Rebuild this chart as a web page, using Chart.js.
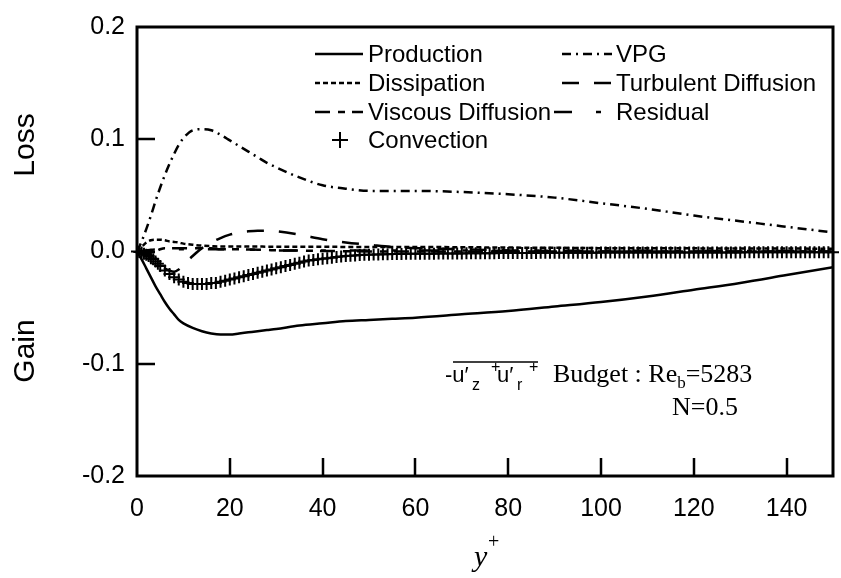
<!DOCTYPE html>
<html>
<head>
<meta charset="utf-8">
<script src="https://cdn.jsdelivr.net/npm/chart.js@4/dist/chart.umd.min.js"></script>
<style>
  html, body { margin: 0; padding: 0; background: #fff; }
  #wrap { width: 841px; height: 578px; }
</style>
</head>
<body>
<div id="wrap"><canvas id="c" width="841" height="578"></canvas></div>
<script>
// Wall distance (y+) for the smooth budget terms
const yPlus = [0, 1, 2, 3, 4, 5, 6, 7, 8, 9, 10, 12, 14, 16, 18, 20, 22, 24, 26, 28, 30,
               35, 40, 45, 50, 55, 60, 70, 80, 90, 100, 110, 120, 130, 140, 150];

const production = [0, -0.007, -0.015, -0.023, -0.031, -0.038, -0.045, -0.051, -0.056, -0.061, -0.064,
                    -0.068, -0.071, -0.073, -0.074, -0.074, -0.073, -0.072, -0.071, -0.070, -0.069,
                    -0.066, -0.064, -0.062, -0.061, -0.060, -0.059, -0.056, -0.053, -0.049, -0.045,
                    -0.040, -0.034, -0.028, -0.021, -0.014];

const dissipation = [0, 0.004, 0.008, 0.010, 0.0105, 0.0105, 0.010, 0.009, 0.0085, 0.008, 0.007,
                     0.006, 0.0052, 0.0048, 0.0045, 0.0045, 0.0045, 0.0044, 0.0044, 0.0043, 0.0043,
                     0.0042, 0.0042, 0.0041, 0.0041, 0.004, 0.004, 0.0038, 0.0035, 0.0033, 0.003,
                     0.003, 0.0028, 0.0027, 0.0026, 0.0025];

const viscousDiffusion = [0, -0.002, -0.003, -0.002, 0, 0.002, 0.003, 0.003, 0.003, 0.003, 0.003,
                          0.003, 0.003, 0.003, 0.002, 0.002, 0.002, 0.0018, 0.0016, 0.0014, 0.001,
                          0.0008, 0.0005, 0.0003, 0, 0, 0, 0, 0, 0, 0,
                          0, 0, 0, 0, 0];

const vpg = [0, 0.009, 0.020, 0.032, 0.045, 0.057, 0.068, 0.078, 0.087, 0.095, 0.101,
             0.108, 0.109, 0.108, 0.104, 0.099, 0.094, 0.089, 0.084, 0.079, 0.075,
             0.066, 0.059, 0.056, 0.054, 0.054, 0.054, 0.053, 0.051, 0.048, 0.043,
             0.038, 0.032, 0.027, 0.022, 0.017];

const turbulentDiffusion = [0, -0.001, -0.003, -0.006, -0.009, -0.012, -0.015, -0.017, -0.018, -0.016, -0.012,
                            -0.004, 0.003, 0.008, 0.012, 0.015, 0.017, 0.018, 0.0185, 0.0185, 0.018,
                            0.015, 0.011, 0.008, 0.006, 0.004, 0.003, 0.002, 0.001, 0.0005, 0,
                            0, 0, 0, 0, 0];

const residual = [0, 0.0005, 0.001, 0.0015, 0.0018, 0.002, 0.002, 0.002, 0.002, 0.002, 0.002,
                  0.002, 0.002, 0.002, 0.002, 0.002, 0.0018, 0.0016, 0.0014, 0.0012, 0.001,
                  0.001, 0.001, 0.001, 0.001, 0.001, 0.0008, 0.0008, 0.0007, 0.0007, 0.0006,
                  0.0006, 0.0005, 0.0005, 0.0005, 0.0005];

// Convection is shown at the grid points of the simulation
const convYPlus = [0, 0.5, 1, 1.5, 2, 2.5, 3, 3.5, 4, 4.5, 5, 6, 7, 8, 9, 10, 11, 12, 13, 14, 15,
                   16, 17, 18, 19, 20, 21, 22, 23, 24, 25, 26, 27, 28, 29, 30, 31, 32, 33, 34, 35,
                   36, 37, 38, 39, 40, 41, 42, 43, 44, 45, 46, 47, 48, 49, 50, 51, 52, 53, 54, 55,
                   56, 57, 58, 59, 60, 61, 62, 63, 64, 65, 66, 67, 68, 69, 70, 71, 72, 73, 74, 75,
                   76, 77, 78, 79, 80, 81, 82, 83, 84, 85, 86, 87, 88, 89, 90, 91, 92, 93, 94, 95,
                   96, 97, 98, 99, 100, 101, 102, 103, 104, 105, 106, 107, 108, 109, 110, 111, 112, 113, 114, 115,
                   116, 117, 118, 119, 120, 121, 122, 123, 124, 125, 126, 127, 128, 129, 130, 131, 132, 133, 134, 135,
                   136, 137, 138, 139, 140, 141, 142, 143, 144, 145, 146, 147, 148, 149, 150];

const convection = [0, -0.0005, -0.001, -0.002, -0.003, -0.004, -0.006, -0.007, -0.009, -0.011, -0.013, -0.017, -0.020, -0.023, -0.025, -0.027, -0.028, -0.029, -0.029, -0.029, -0.029,
                    -0.028, -0.028, -0.027, -0.026, -0.025, -0.024, -0.023, -0.022, -0.021, -0.020, -0.019, -0.018, -0.017, -0.016, -0.015, -0.014, -0.013, -0.012, -0.011, -0.010,
                    -0.009, -0.008, -0.0075, -0.007, -0.0065, -0.006, -0.0055, -0.005, -0.0045, -0.004, -0.0038, -0.0035, -0.0032, -0.003, -0.0028, -0.0027, -0.0026, -0.0025, -0.0024, -0.0023,
                    -0.0022, -0.0022, -0.0021, -0.0021, -0.002, -0.002, -0.002, -0.0019, -0.0019, -0.0018, -0.0018, -0.0018, -0.0017, -0.0017, -0.0017, -0.0016, -0.0016, -0.0016, -0.0015, -0.0015,
                    -0.0015, -0.0015, -0.0014, -0.0014, -0.0014, -0.0014, -0.0013, -0.0013, -0.0013, -0.0013, -0.0013, -0.0012, -0.0012, -0.0012, -0.0012, -0.0012, -0.0012, -0.0011, -0.0011, -0.0011,
                    -0.0011, -0.0011, -0.0011, -0.0011, -0.001, -0.001, -0.001, -0.001, -0.001, -0.001, -0.001, -0.001, -0.001, -0.001, -0.001, -0.0009, -0.0009, -0.0009, -0.0009, -0.0009,
                    -0.0009, -0.0009, -0.0009, -0.0009, -0.0009, -0.0008, -0.0008, -0.0008, -0.0008, -0.0008, -0.0008, -0.0008, -0.0008, -0.0008, -0.0008, -0.0007, -0.0007, -0.0007, -0.0007, -0.0007,
                    -0.0007, -0.0007, -0.0007, -0.0007, -0.0007, -0.0006, -0.0006, -0.0006, -0.0006, -0.0006, -0.0006, -0.0006, -0.0006, -0.0006, -0.0006];

const xTickValues = [0, 20, 40, 60, 80, 100, 120, 140];
const yTickValues = [-0.2, -0.1, 0.0, 0.1, 0.2];
const innerTickX = [20, 40, 60, 80, 100, 120, 140];
const innerTickY = [-0.1, 0.0, 0.1];

const pts = (xs, ys) => xs.map((x, i) => ({ x: x, y: ys[i] }));

const LINE_W = 2.5;
const lineSet = (label, data, dash) => ({
  label: label,
  data: data,
  showLine: true,
  borderColor: '#000',
  borderWidth: LINE_W,
  borderDash: dash,
  pointRadius: 0,
  cubicInterpolationMode: 'monotone',
  fill: false
});

const datasets = [
  lineSet('Production', pts(yPlus, production), []),
  lineSet('Dissipation', pts(yPlus, dissipation), [5, 3]),
  lineSet('Viscous Diffusion', pts(yPlus, viscousDiffusion), [15, 8, 7, 7]),
  {
    label: 'Convection',
    data: pts(convYPlus, convection),
    showLine: false,
    pointStyle: 'cross',
    pointRadius: 6,
    pointBorderWidth: 2,
    pointBorderColor: '#000',
    pointBackgroundColor: '#000',
    clip: false
  },
  lineSet('VPG', pts(yPlus, vpg), [9, 5, 2, 5]),
  lineSet('Turbulent Diffusion', pts(yPlus, turbulentDiffusion), [17, 15]),
  lineSet('Residual', pts(yPlus, residual), [18, 24, 5, 24])
];

// Legend in two columns inside the frame: dataset index, column, row
const legendRows = [
  { idx: 0, col: 0, row: 0 }, { idx: 1, col: 0, row: 1 }, { idx: 2, col: 0, row: 2 }, { idx: 3, col: 0, row: 3 },
  { idx: 4, col: 1, row: 0 }, { idx: 5, col: 1, row: 1 }, { idx: 6, col: 1, row: 2, start: 554 }
];

const SANS = '"Liberation Sans", Arial, Helvetica, sans-serif';
const SERIF = '"Liberation Serif", "Times New Roman", Times, serif';

const framePlugin = {
  id: 'frame',
  afterDraw(chart) {
    const ctx = chart.ctx;
    const a = chart.chartArea;
    const xs = chart.scales.x, ys = chart.scales.y;
    ctx.save();
    ctx.strokeStyle = '#000';
    ctx.setLineDash([]);
    // inward tick marks
    ctx.lineWidth = 2.5;
    ctx.beginPath();
    innerTickX.forEach(v => {
      const px = Math.round(xs.getPixelForValue(v));
      ctx.moveTo(px, a.bottom);
      ctx.lineTo(px, a.bottom - 18);
    });
    innerTickY.forEach(v => {
      const py = Math.round(ys.getPixelForValue(v));
      ctx.moveTo(a.left, py);
      ctx.lineTo(a.left + 18, py);
    });
    ctx.stroke();
    // frame
    ctx.lineWidth = 3;
    ctx.strokeRect(a.left, a.top, a.right - a.left, a.bottom - a.top);

    // legend
    const colSample = [[315, 363], [562, 612]];
    const colText = [368, 616];
    const rowY = [54, 83, 112, 140];
    ctx.font = '24px ' + SANS;
    ctx.fillStyle = '#000';
    ctx.textBaseline = 'middle';
    ctx.textAlign = 'left';
    legendRows.forEach(r => {
      const ds = chart.data.datasets[r.idx];
      const y = rowY[r.row];
      const x0 = r.start || colSample[r.col][0];
      const x1 = colSample[r.col][1];
      if (ds.showLine === false) {
        const cx = 340;
        ctx.strokeStyle = '#000';
        ctx.lineWidth = 2;
        ctx.beginPath();
        ctx.moveTo(cx - 8, y); ctx.lineTo(cx + 8, y);
        ctx.moveTo(cx, y - 8); ctx.lineTo(cx, y + 8);
        ctx.stroke();
      } else {
        ctx.lineWidth = LINE_W;
        ctx.strokeStyle = '#000';
        ctx.setLineDash(ds.borderDash || []);
        ctx.beginPath();
        ctx.moveTo(x0, y); ctx.lineTo(x1, y);
        ctx.stroke();
        ctx.setLineDash([]);
      }
      ctx.fillText(ds.label, colText[r.col], y + 1);
    });

    // side words
    ctx.font = '30px ' + SANS;
    ctx.textAlign = 'center';
    ctx.textBaseline = 'middle';
    [['Loss', 145], ['Gain', 351]].forEach(([t, y]) => {
      ctx.save();
      ctx.translate(26, y);
      ctx.rotate(-Math.PI / 2);
      ctx.fillText(t, 0, 0);
      ctx.restore();
    });

    // axis title y+
    ctx.textAlign = 'left';
    ctx.textBaseline = 'alphabetic';
    ctx.font = 'italic 30px ' + SERIF;
    ctx.fillText('y', 474, 566);
    ctx.font = '20px ' + SERIF;
    ctx.fillText('+', 488, 548);

    // budget annotation
    const base = 382;
    ctx.font = '22px ' + SANS;
    ctx.fillText('-u\u2032', 445, base);
    ctx.font = '16px ' + SANS;
    ctx.fillText('z', 472, base + 8);
    ctx.fillText('+', 491, base - 10);
    ctx.font = '22px ' + SANS;
    ctx.fillText('u\u2032', 497, base);
    ctx.font = '16px ' + SANS;
    ctx.fillText('r', 517, base + 8);
    ctx.fillText('+', 529, base - 10);
    ctx.lineWidth = 1.5;
    ctx.beginPath();
    ctx.moveTo(453, 362); ctx.lineTo(538, 362);
    ctx.stroke();
    ctx.font = '26px ' + SERIF;
    ctx.fillText('Budget : Re', 553, base);
    const wRe = ctx.measureText('Budget : Re').width;
    ctx.font = '17px ' + SERIF;
    ctx.fillText('b', 553 + wRe, base + 6);
    const wb = ctx.measureText('b').width;
    ctx.font = '26px ' + SERIF;
    ctx.fillText('=5283', 553 + wRe + wb, base);
    ctx.fillText('N=0.5', 672, 415);
    ctx.restore();
  }
};

new Chart(document.getElementById('c'), {
  type: 'scatter',
  data: { datasets: datasets },
  options: {
    responsive: false,
    animation: false,
    devicePixelRatio: 1,
    layout: { padding: { top: 20, right: 2, left: 0, bottom: 0 } },
    plugins: { legend: { display: false }, tooltip: { enabled: false } },
    scales: {
      x: {
        type: 'linear',
        min: 0,
        max: 150,
        grid: { display: false, drawTicks: false },
        border: { display: false },
        afterBuildTicks: s => { s.ticks = xTickValues.map(v => ({ value: v })); },
        afterFit: s => { s.height = 102; },
        ticks: {
          color: '#000',
          font: { family: SANS, size: 25 },
          padding: 18,
          maxRotation: 0,
          callback: v => String(v)
        }
      },
      y: {
        type: 'linear',
        min: -0.2,
        max: 0.2,
        grid: { display: false, drawTicks: false },
        border: { display: false },
        afterBuildTicks: s => { s.ticks = yTickValues.map(v => ({ value: v })); },
        afterFit: s => { s.width = 137; },
        ticks: {
          color: '#000',
          font: { family: SANS, size: 25 },
          padding: 12,
          callback: v => v.toFixed(1)
        }
      }
    }
  },
  plugins: [framePlugin]
});
</script>
</body>
</html>
